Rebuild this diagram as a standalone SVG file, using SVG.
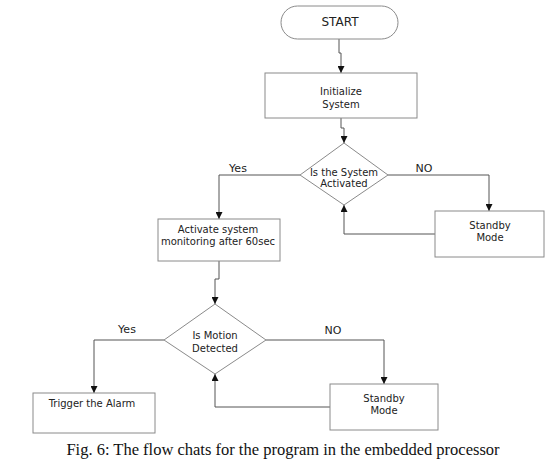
<svg xmlns="http://www.w3.org/2000/svg" width="559" height="460" viewBox="0 0 559 460">
<defs>
<marker id="arr" viewBox="0 0 10 10" refX="10" refY="5" markerWidth="7" markerHeight="7" markerUnits="userSpaceOnUse" orient="auto">
<path d="M0,0 L10,5 L0,10 z" fill="#111"/>
</marker>
<style>
.shape{fill:#fff;stroke:#8a8a8a;stroke-width:1}
.con{fill:none;stroke:#555;stroke-width:1}
.t{font-family:"DejaVu Sans",Verdana,sans-serif;font-size:10px;fill:#222;text-anchor:middle}
.lbl{font-family:"DejaVu Sans",Verdana,sans-serif;font-size:11px;fill:#222;text-anchor:middle}
.cap{font-family:"Liberation Serif","Times New Roman",serif;font-size:16.5px;fill:#111;text-anchor:middle}
</style>
</defs>
<rect width="559" height="460" fill="#fff"/>
<g id="connectors">
<path class="con" d="M339,39 V53 H341 V73" marker-end="url(#arr)"/>
<path class="con" d="M341,118 V128 H344 V143" marker-end="url(#arr)"/>
<path class="con" d="M300,175 H219 V219" marker-end="url(#arr)"/>
<path class="con" d="M388,175 H489 V211" marker-end="url(#arr)"/>
<path class="con" d="M435,234 H344 V205" marker-end="url(#arr)"/>
<path class="con" d="M219,261 V279 H215 V304" marker-end="url(#arr)"/>
<path class="con" d="M164,340 H94 V393" marker-end="url(#arr)"/>
<path class="con" d="M266,340 H384 V384" marker-end="url(#arr)"/>
<path class="con" d="M330,407 H215 V374" marker-end="url(#arr)"/>
<text class="lbl" x="238" y="172">Yes</text>
<text class="lbl" x="424" y="172">NO</text>
<text class="lbl" x="127" y="333">Yes</text>
<text class="lbl" x="333" y="334">NO</text>
</g>
<g id="start">
<rect class="shape" x="281" y="6" width="117" height="33" rx="16.5"/>
<text class="t" x="340" y="26" style="font-size:12px">START</text>
</g>
<g id="init">
<rect class="shape" x="265" y="73" width="152" height="45"/>
<text class="t" x="341" y="95">Initialize</text>
<text class="t" x="341" y="108">System</text>
</g>
<g id="decision1">
<polygon class="shape" points="344,143 388,175 344,205 300,175"/>
<text class="t" x="344" y="176">Is the System</text>
<text class="t" x="344" y="187">Activated</text>
</g>
<g id="standby1">
<rect class="shape" x="435" y="211" width="109" height="46"/>
<text class="t" x="490" y="229">Standby</text>
<text class="t" x="490" y="241">Mode</text>
</g>
<g id="activate">
<rect class="shape" x="158" y="219" width="122" height="42"/>
<text class="t" x="218" y="233">Activate system</text>
<text class="t" x="218" y="245">monitoring after 60sec</text>
</g>
<g id="decision2">
<polygon class="shape" points="215,304 266,340 215,374 164,340"/>
<text class="t" x="215" y="339">Is Motion</text>
<text class="t" x="215" y="352">Detected</text>
</g>
<g id="trigger">
<rect class="shape" x="33" y="393" width="122" height="40"/>
<text class="t" x="92" y="407">Trigger the Alarm</text>
</g>
<g id="standby2">
<rect class="shape" x="330" y="384" width="108" height="46"/>
<text class="t" x="384" y="402">Standby</text>
<text class="t" x="384" y="414">Mode</text>
</g>
<text class="cap" x="283" y="455">Fig. 6: The flow chats for the program in the embedded processor</text>
</svg>
